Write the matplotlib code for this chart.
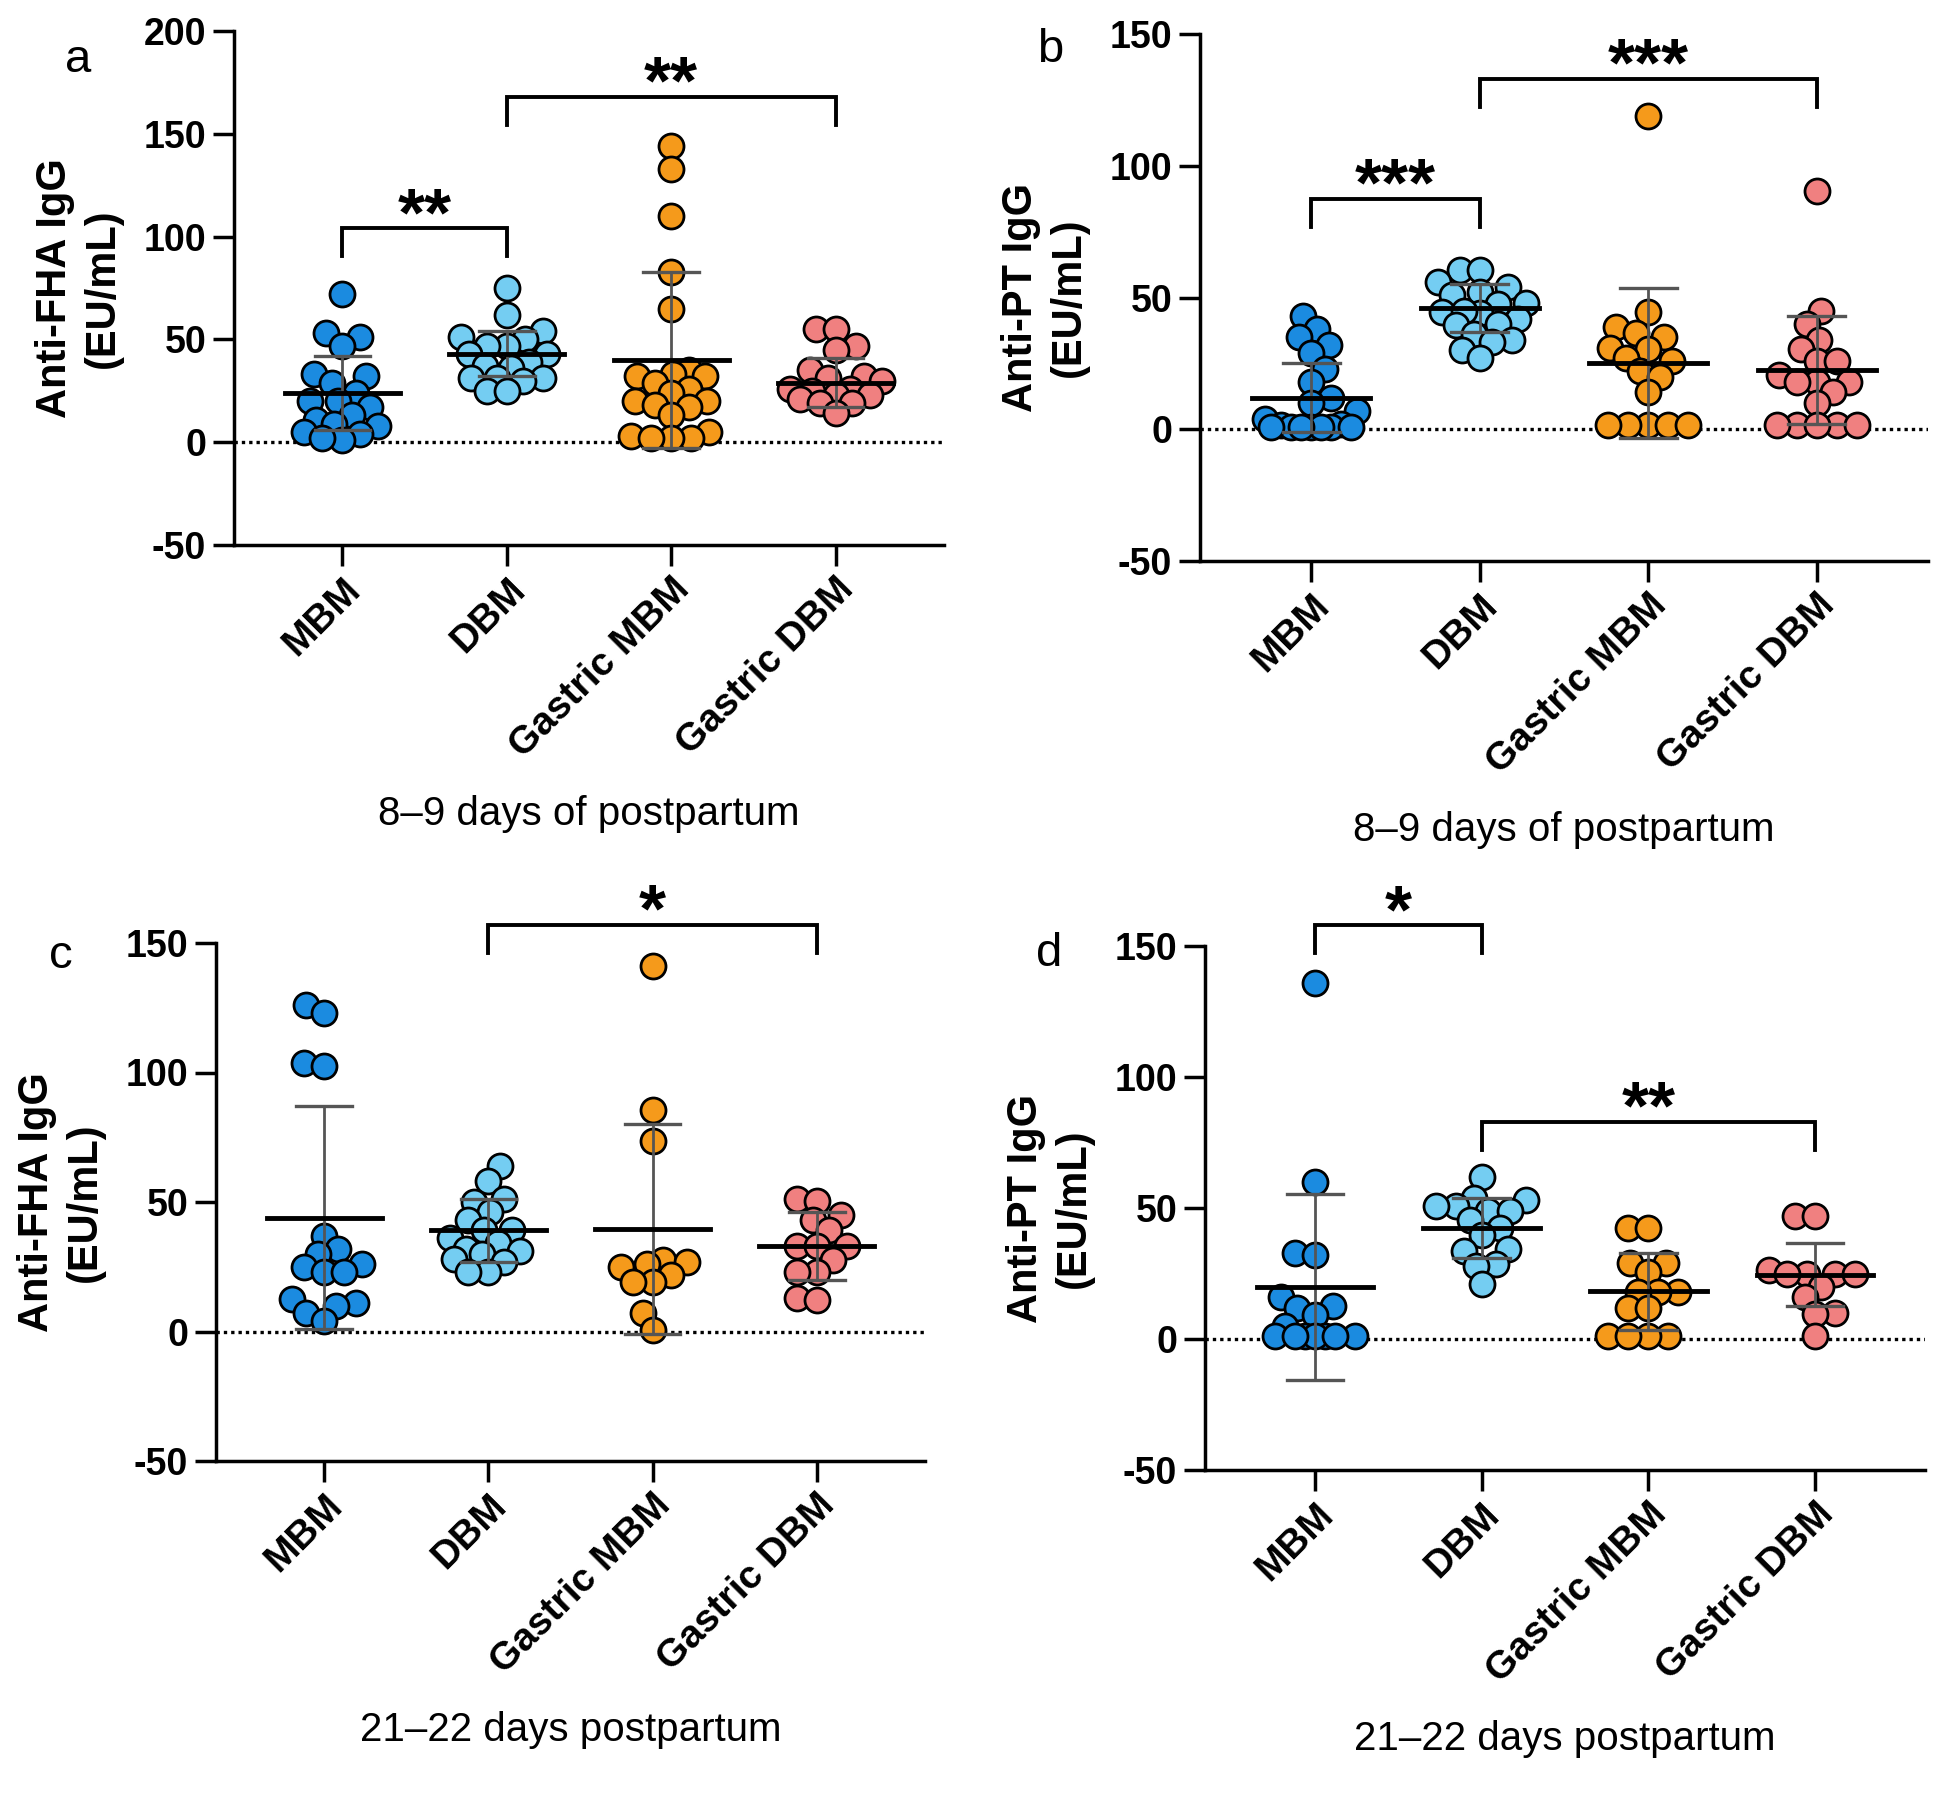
import numpy as np
import matplotlib
matplotlib.use('Agg')
import matplotlib.pyplot as plt

plt.rcParams['font.family'] = ['Liberation Sans', 'DejaVu Sans']
plt.rcParams['axes.unicode_minus'] = False

groups = ['MBM', 'DBM', 'Gastric MBM', 'Gastric DBM']
group_colors = ['#1b8be0', '#74cdf2', '#f59a1b', '#f08080']

# a: anti-FHA, 8-9 days
fha_early = [
    [72, 53, 51, 47, 32, 33, 29, 24, 20, 20, 17, 13, 11, 9, 8, 4, 5, 1, 2],
    [75, 62, 54, 50, 51, 47, 47, 43, 43, 39, 37, 36, 31, 31, 31, 30, 25, 25],
    [144, 133, 110, 83, 65, 35, 33, 32, 32, 29, 26, 24, 20, 20, 18, 17, 13,
     5, 3, 2, 2, 2],
    [55, 55, 47, 45, 35, 32, 31, 30, 26, 26, 25, 23, 23, 21, 19, 19, 14],
]
fha_early_mean = [24, 43, 40, 29]
fha_early_sd = [18, 11, 43, 12]

# b: anti-PT, 8-9 days
pt_early = [
    [43, 38, 35, 32, 29, 23, 18, 12, 10, 7, 4, 2, 1.5, 1, 1, 1, 1, 1, 1, 1],
    [60.5, 60.5, 56, 54, 51, 52, 48, 47.5, 44.5, 44, 45, 42, 40, 39.5, 36,
     34, 33, 30, 27],
    [119, 44.5, 38.7, 36.5, 35, 31, 30.6, 26, 27, 22, 20, 14,
     1.5, 1.5, 1.5, 1.5, 1.5],
    [90.5, 45, 40, 34, 30.5, 26, 26, 20.5, 18, 18, 18, 14, 10,
     1.5, 1.5, 1.5, 1.5, 1.5],
]
pt_early_mean = [12, 46, 25, 22.5]
pt_early_sd = [13, 9, 28.5, 20.5]

# c: anti-FHA, 21-22 days
fha_late = [
    [126, 123, 103.5, 102.5, 37, 32, 30, 26, 25, 23, 23, 12.6, 11, 10, 7, 4],
    [64, 58, 51, 50, 46, 43, 39, 39, 36, 34, 32, 31, 30, 28, 27, 23, 23],
    [141, 85.4, 73.5, 27.5, 26.7, 26, 25, 22, 19, 19, 7, 0.7],
    [51, 50.5, 45, 43, 39, 33, 33, 33, 27.5, 23, 23, 13, 12],
]
fha_late_mean = [44, 39, 39.5, 33]
fha_late_sd = [43, 12, 40.5, 13]

# d: anti-PT, 21-22 days
pt_late = [
    [136, 60, 33, 32, 16, 12.5, 12, 9, 5, 1, 1, 1, 1, 1, 1, 1],
    [62, 54, 53, 50.6, 50.6, 49, 49, 45.5, 42.5, 39.6, 34.5, 33.7, 28.6,
     28, 21],
    [42.5, 42.5, 29, 29, 25.7, 18, 18, 18, 11.7, 11.7, 1, 1, 1, 1],
    [47, 47, 26.4, 25, 25, 25, 25, 20, 16, 10, 9.5, 1],
]
pt_late_mean = [20, 42.5, 18.3, 24.5]
pt_late_sd = [35.5, 11.5, 14.7, 12]

# significance brackets: (group i, group j, bar height, stars)
brackets_a = [(0, 1, 104, '**'), (1, 3, 168, '**')]
brackets_b = [(0, 1, 87.5, '***'), (1, 3, 133, '***')]
brackets_c = [(1, 3, 157, '*')]
brackets_d = [(0, 1, 158, '*'), (1, 3, 83, '**')]

W, H = 1950, 1795


def box(left, top, right, bottom):
    ''' pixel box -> figure fraction rect '''
    return [left / W, 1 - bottom / H, (right - left) / W, (bottom - top) / H]


def swarm(vals, px_x, px_y, min_d=19.0, step=2.0, max_off=0.28):
    """
    Simple beeswarm with a capped width: points are spread sideways
    (pixel distances), and when a row is full they are allowed to overlap.
    """
    vals = np.asarray(vals, dtype=float)
    order = np.argsort(vals)
    max_px = max_off * px_x
    cands = [0.0]
    n = 1
    while n * step <= max_px:
        cands += [n * step, -n * step]
        n += 1
    placed = []
    offs = np.zeros(len(vals))
    for cnt, k in enumerate(order):
        y = vals[k] * px_y
        near = [(px, py) for px, py in placed if abs(py - y) < min_d]
        best, best_d = 0.0, -1.0
        for c in (cands if cnt % 2 == 0 else [-c for c in cands]):
            if near:
                d = min(np.hypot(c - px, y - py) for px, py in near)
            else:
                d = np.inf
            if d >= min_d:
                best = c
                break
            if d > best_d + 0.5:
                best, best_d = c, d
        placed.append((best, y))
        offs[k] = best / px_x
    return offs


panels = [
    ('a', fha_early, fha_early_mean, fha_early_sd, brackets_a,
     'Anti-FHA IgG\n(EU/mL)', '8–9 days of postpartum', 200,
     box(234, 31, 944, 545), (78, 72)),
    ('b', pt_early, pt_early_mean, pt_early_sd, brackets_b,
     'Anti-PT IgG\n(EU/mL)', '8–9 days of postpartum', 150,
     box(1200, 34, 1928, 561), (1050, 62)),
    ('c', fha_late, fha_late_mean, fha_late_sd, brackets_c,
     'Anti-FHA IgG\n(EU/mL)', '21–22 days postpartum', 150,
     box(216, 943, 925, 1461), (61, 968)),
    ('d', pt_late, pt_late_mean, pt_late_sd, brackets_d,
     'Anti-PT IgG\n(EU/mL)', '21–22 days postpartum', 150,
     box(1205, 946, 1925, 1470), (1049, 966)),
]

fig = plt.figure(figsize=(19.5, 17.95), dpi=100)
xlo, xhi = -0.66, 3.66

for letter, data, means, sds, brackets, ylab, xlab, ytop, rect, lpos in panels:
    ax = fig.add_axes(rect)
    ax.set_xlim(xlo, xhi)
    ax.set_ylim(-50, ytop)
    for s in ['top', 'right']:
        ax.spines[s].set_visible(False)
    for s in ['left', 'bottom']:
        ax.spines[s].set_linewidth(2.5)

    px_x = rect[2] * W / (xhi - xlo)
    px_y = rect[3] * H / (ytop + 50)

    ax.axhline(0, color='black', lw=2.4, ls=(0, (1, 1.2)), zorder=1)

    for i, vals in enumerate(data):
        vals = np.asarray(vals, dtype=float)
        offs = swarm(vals, px_x, px_y)
        ax.scatter(i + offs, vals, s=324, c=group_colors[i],
                   edgecolors='black', linewidths=2, zorder=3)
        m, sd = means[i], sds[i]
        ax.plot([i, i], [m - sd, m + sd], color='#555555', lw=2, zorder=4)
        for yy in (m - sd, m + sd):
            ax.plot([i - 0.17, i + 0.17], [yy, yy], color='#555555', lw=2.4,
                    zorder=4)
        ax.plot([i - 0.35, i + 0.35], [m, m], color='black', lw=3.5,
                zorder=5)

    leg = 28 / px_y
    for i, j, y, stars in brackets:
        ax.plot([i, i, j, j], [y - leg, y, y, y - leg], color='black', lw=2.8,
                clip_on=False, solid_joinstyle='miter')
        ax.annotate(stars, xy=((i + j) / 2, y), xytext=(0, -5),
                    textcoords='offset points', ha='center', va='baseline',
                    fontsize=50, fontweight='bold', annotation_clip=False)

    ax.set_yticks(np.arange(-50, ytop + 1, 50))
    ax.tick_params(axis='y', length=15, width=2.5, pad=5, labelsize=27)
    for lab in ax.get_yticklabels():
        lab.set_fontweight('bold')
    ax.set_xticks(range(len(groups)))
    ax.set_xticklabels(groups, rotation=45, ha='right', va='top',
                       rotation_mode='anchor', fontsize=28, fontweight='bold')
    ax.tick_params(axis='x', length=15, width=2.5, pad=4)

    ax.set_ylabel(ylab, fontsize=30, fontweight='bold', labelpad=15,
                  linespacing=1.25)
    ax.annotate(xlab, xy=(0.5, 0), xycoords='axes fraction',
                xytext=(0, -194), textcoords='offset points',
                ha='center', va='center', fontsize=29)

    fig.text(lpos[0] / W, 1 - lpos[1] / H, letter, fontsize=34,
             ha='center', va='baseline')

fig.savefig('out.png', dpi=100)
